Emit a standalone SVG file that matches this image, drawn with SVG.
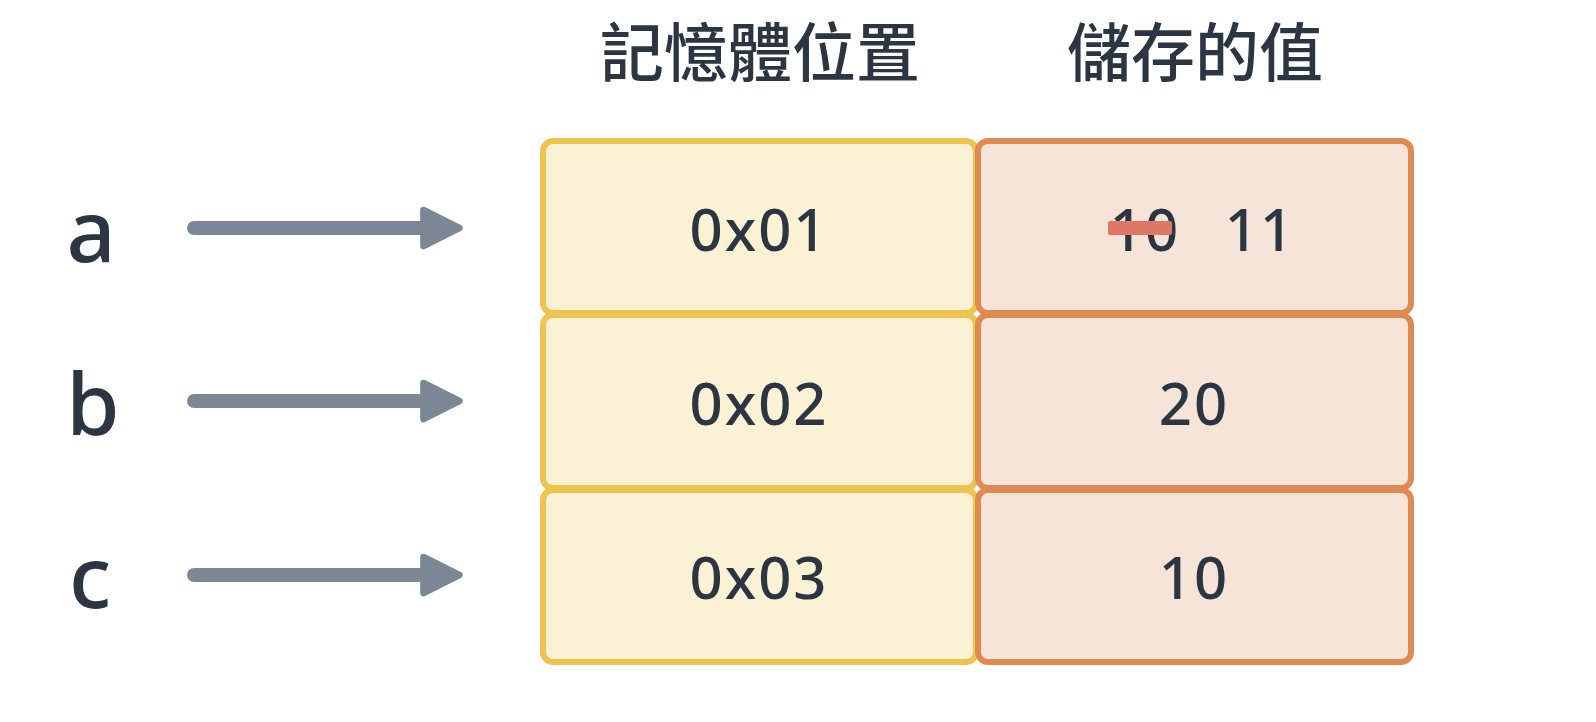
<svg xmlns="http://www.w3.org/2000/svg" width="1596" height="722" viewBox="0 0 1596 722">
<style>
.bg{fill:#ffffff}
.addr{fill:#fbf1d5;stroke:#ecc44f;stroke-width:6}
.val{fill:#f7e4d8;stroke:#de8a50;stroke-width:6}
.t{font-family:"Noto Sans","DejaVu Sans",sans-serif;font-weight:500;fill:#2b3642;text-anchor:middle}
.cell{font-size:58px;letter-spacing:2px}
.hdr{font-family:"Noto Sans CJK TC","Noto Sans CJK SC",sans-serif;font-weight:500;font-size:64px;fill:#2b3642;text-anchor:middle}
.lbl{font-size:86px}
.arrow{stroke:#7b8794;stroke-width:14;stroke-linecap:round;fill:none}
</style>
<defs>
<marker id="ah" viewBox="0 0 10 10" refX="2" refY="5" markerWidth="3.2" markerHeight="3.6" markerUnits="strokeWidth" orient="auto">
<path d="M1,1 L9,5 L1,9 Z" fill="#7b8794" stroke="#7b8794" stroke-width="1.5" stroke-linejoin="round"/>
</marker>
</defs>
<rect class="bg" x="0" y="0" width="1596" height="722"/>
<g id="headers">
<text class="hdr" x="760" y="76">記憶體位置</text>
<text class="hdr" x="1195" y="76">儲存的值</text>
</g>
<g id="labels">
<text class="t lbl" x="91" y="262">a</text>
<text class="t lbl" x="93" y="435">b</text>
<text class="t lbl" x="90" y="608">c</text>
</g>
<g id="addr1"><rect class="addr" x="543" y="141" width="433" height="172" rx="10"/><text class="t cell" x="759" y="251">0x01</text></g>
<g id="addr2"><rect class="addr" x="543" y="315" width="433" height="173" rx="10"/><text class="t cell" x="759" y="425">0x02</text></g>
<g id="addr3"><rect class="addr" x="543" y="490" width="433" height="172" rx="10"/><text class="t cell" x="759" y="599">0x03</text></g>
<g id="val1"><rect class="val" x="978" y="141" width="433" height="172" rx="10"/>
<text class="t cell" x="1145" y="251">10</text>
<rect x="1108" y="221" width="64" height="14" rx="2" fill="#df7766"/>
<text class="t cell" x="1260" y="251">11</text></g>
<g id="val2"><rect class="val" x="978" y="315" width="433" height="173" rx="10"/><text class="t cell" x="1194" y="425">20</text></g>
<g id="val3"><rect class="val" x="978" y="490" width="433" height="172" rx="10"/><text class="t cell" x="1194" y="599">10</text></g>
<g id="connectors">
<line class="arrow" x1="194" y1="228" x2="428" y2="228" marker-end="url(#ah)"/>
<line class="arrow" x1="194" y1="401" x2="428" y2="401" marker-end="url(#ah)"/>
<line class="arrow" x1="194" y1="575" x2="428" y2="575" marker-end="url(#ah)"/>
</g>
</svg>
